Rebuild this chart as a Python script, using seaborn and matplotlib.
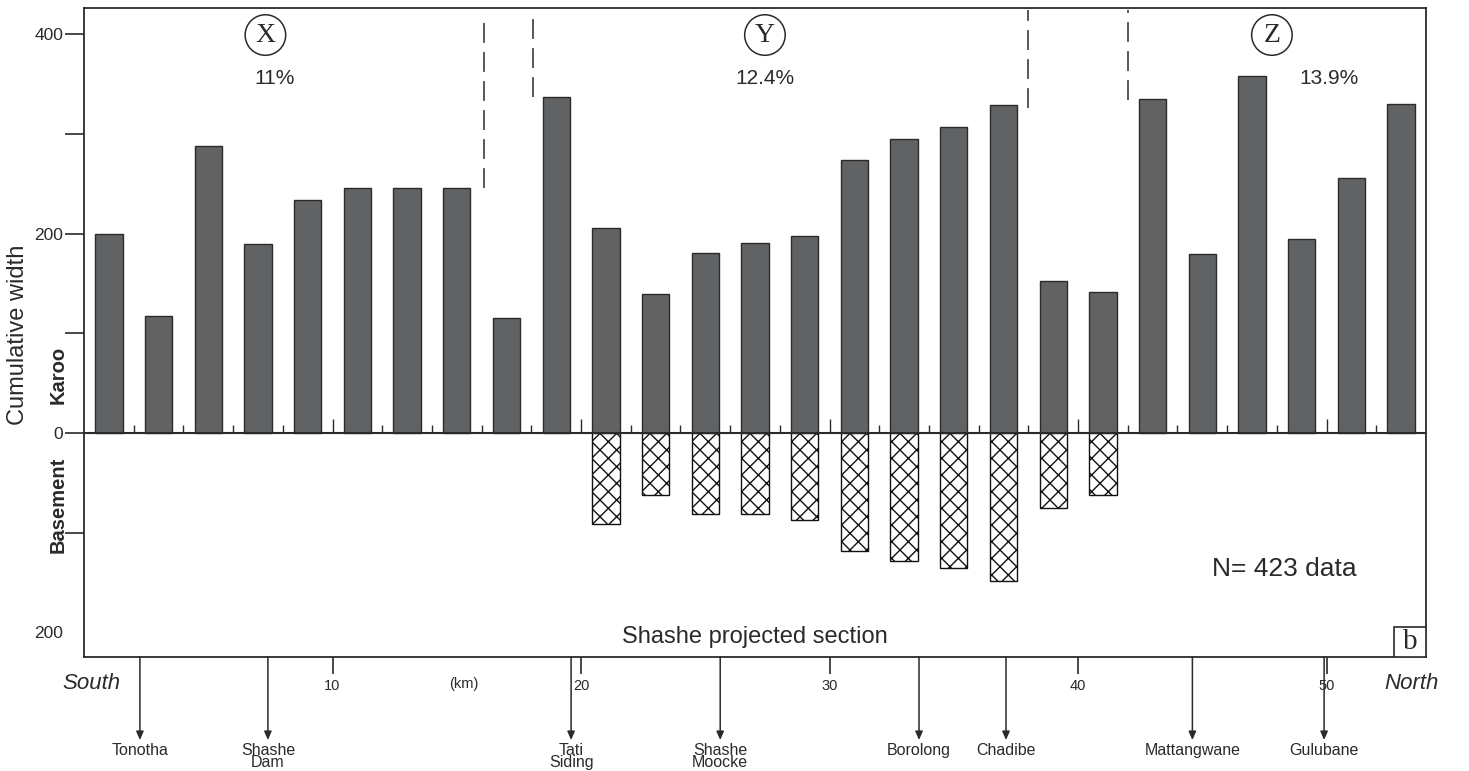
import numpy as np
import pandas as pd
import matplotlib.pyplot as plt
import matplotlib.transforms as mtransforms
import seaborn as sns

# bar centres along the section (km) and cumulative Karoo widths
km = [1, 3, 5, 7, 9, 11, 13, 15, 17, 19, 21, 23, 25, 27, 29, 31, 33, 35, 37, 39, 41, 43, 45, 47, 49, 51, 53]
karoo = [200, 117, 288, 189, 234, 246, 246, 246, 115, 337, 206, 139, 180, 190, 198, 274, 295, 307, 329, 152, 141,
         335, 179, 358, 194, 256, 330]

# basement widths (drawn downwards)
basement_km = [21, 23, 25, 27, 29, 31, 33, 35, 37, 39, 41]
basement = [91, 62, 81, 81, 87, 118, 128, 135, 148, 75, 62]

# domains
domains = ['X', 'Y', 'Z']
domain_km = [7.3, 27.4, 47.8]
domain_pct = ['11%', '12.4%', '13.9%']
pct_km = [7.65, 27.4, 50.1]

# dashed domain boundaries
bound_km = [16.1, 18.05, 38.0, 42.0]
bound_top = [419, 419, 424, 424]
bound_bottom = [246, 337, 326, 334]

# localities projected on the section
places = ['Tonotha', 'Shashe\nDam', 'Tati\nSiding', 'Shashe\nMoocke', 'Borolong', 'Chadibe', 'Mattangwane', 'Gulubane']
place_km = [2.25, 7.4, 19.6, 25.6, 33.6, 37.1, 44.6, 49.9]

km_ticks = [10, 20, 30, 40, 50]

sns.set_style('white')
plt.rcParams['font.family'] = ['Liberation Sans', 'DejaVu Sans']

dark = '#2a2a2a'
fig = plt.figure(figsize=(14.69, 7.71), dpi=100)
ax = fig.add_axes([84 / 1469, 114 / 771, 1342 / 1469, 649 / 771])

df_k = pd.DataFrame({'km': km, 'width': karoo})
df_b = pd.DataFrame({'km': basement_km, 'width': [-v for v in basement]})

sns.barplot(data=df_k, x='km', y='width', native_scale=True, width=0.55, color='#616264',
            saturation=1, edgecolor=dark, linewidth=1.0, errorbar=None, ax=ax)
sns.barplot(data=df_b, x='km', y='width', native_scale=True, width=0.55, color='white',
            saturation=1, edgecolor='#111111', linewidth=1.0, errorbar=None, hatch='xx', ax=ax)

ax.set_xlim(0, 54)
ax.set_ylim(-224.6, 426.1)
ax.set_xlabel('')
ax.set_ylabel('')

for s in ax.spines.values():
    s.set_color(dark)
    s.set_linewidth(1.3)

# zero line with small km ticks
ax.axhline(0, color=dark, lw=1.5, zorder=5)
minor = [k for k in range(2, 54, 2) if k % 10]
ax.vlines(minor, 0, 8, color=dark, lw=1, zorder=5)
ax.vlines(km_ticks, 0, 14, color=dark, lw=1, zorder=5)

# y ticks
ax.set_yticks([-200, -100, 0, 100, 200, 300, 400])
ax.set_yticklabels(['200', '', '0', '', '200', '', '400'], fontsize=12.5, color=dark)
ax.tick_params(axis='y', direction='out', length=14, width=1.2, color=dark, pad=1, left=True)
ax.yaxis.get_major_ticks()[0].tick1line.set_visible(False)

# x ticks
ax.set_xticks(km_ticks)
ax.set_xticklabels([str(k) for k in km_ticks], fontsize=10.5, color=dark)
ax.tick_params(axis='x', direction='out', length=12, width=1.2, color=dark, pad=4, bottom=True)

ax.text(15.3, -251.5, '(km)', fontsize=10.5, ha='center', va='center', color=dark)
ax.text(0.3, -251.5, 'South', fontsize=16, style='italic', ha='center', va='center', color=dark)
ax.text(53.4, -251.5, 'North', fontsize=16, style='italic', ha='center', va='center', color=dark)

# domain labels
for name, x in zip(domains, domain_km):
    ax.text(x, 399, name, fontsize=20, family='Liberation Serif', ha='center', va='center', color=dark,
            bbox=dict(boxstyle='circle,pad=0.28', fc='white', ec=dark, lw=1.1))
for p, x in zip(domain_pct, pct_km):
    ax.text(x, 355, p, fontsize=15, ha='center', va='center', color=dark)

for x, y0, y1 in zip(bound_km, bound_bottom, bound_top):
    ax.plot([x, x], [y0, y1], color=dark, lw=1.1, linestyle=(0, (13, 6)))

ax.text(48.3, -136, 'N= 423 data', fontsize=19, ha='center', va='center', color=dark)
ax.text(27.0, -205, 'Shashe projected section', fontsize=17, ha='center', va='center', color=dark)

# panel letter box
ax.add_patch(plt.Rectangle((1 - 32 / 1342, 0), 32 / 1342, 30 / 649, transform=ax.transAxes,
                           fc='white', ec=dark, lw=1.2, zorder=6))
ax.text(1 - 16 / 1342, 15 / 649, 'b', transform=ax.transAxes, fontsize=21, family='Liberation Serif',
        ha='center', va='center', color=dark, zorder=7)

# locality arrows
trans = ax.get_xaxis_transform()
for name, x in zip(places, place_km):
    ax.annotate('', xy=(x, -83 / 649), xytext=(x, 0), xycoords=trans, textcoords=trans,
                arrowprops=dict(arrowstyle='-|>,head_length=0.5,head_width=0.22', color=dark, lw=1.1,
                                shrinkA=0, shrinkB=0))
    ax.text(x, -86 / 649, name, transform=trans, fontsize=11.5, ha='center', va='top', color=dark,
            linespacing=0.72)

# axis titles
fig.text(18 / 1469, (771 - 335) / 771, 'Cumulative width', rotation=90, fontsize=17, ha='center', va='center',
         color=dark)
side = mtransforms.blended_transform_factory(fig.transFigure, ax.transData)
fig.text(58 / 1469, 58, 'Karoo', transform=side, rotation=90, fontsize=14.5, fontweight='bold',
         ha='center', va='center', color=dark)
fig.text(58 / 1469, -72, 'Basement', transform=side, rotation=90, fontsize=14.5, fontweight='bold',
         ha='center', va='center', color=dark)

fig.savefig('out.png', dpi=100)
